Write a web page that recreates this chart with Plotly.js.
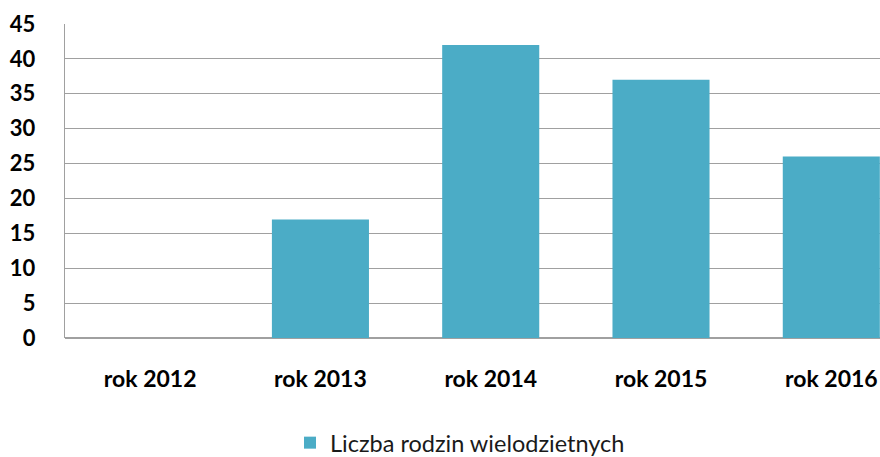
<!DOCTYPE html>
<html>
<head>
<meta charset="utf-8">
<script src="https://cdn.plot.ly/plotly-3.0.1.min.js"></script>
<style>html,body{margin:0;padding:0;overflow:hidden;background:#fff}</style>
</head>
<body>
<div id="chart" style="width:880px;height:457px"></div>
<script>
var categories = ["rok 2012", "rok 2013", "rok 2014", "rok 2015", "rok 2016"];
var values = [0, 17, 42, 37, 26];
var seriesName = "Liczba rodzin wielodzietnych";
var yTicks = [0, 5, 10, 15, 20, 25, 30, 35, 40, 45];

var trace = {
  type: "bar",
  x: categories,
  y: values,
  name: seriesName,
  marker: {color: "#4BACC6", line: {width: 0}},
  showlegend: true
};

var layout = {
  width: 880,
  height: 457,
  margin: {l: 65, r: 0, t: 24, b: 119, autoexpand: false},
  paper_bgcolor: "#fff",
  plot_bgcolor: "#fff",
  bargap: 0.43,
  font: {family: "Lato, 'Open Sans', sans-serif", color: "#000"},
  xaxis: {
    type: "category",
    range: [-0.5, 4.286],
    showgrid: false,
    showline: false,
    zeroline: false,
    ticks: "",
    ticklabelstandoff: 25,
    tickfont: {family: "Lato, sans-serif", size: 23, color: "#000", weight: "bold"}
  },
  yaxis: {
    range: [0, 45],
    tickvals: yTicks,
    ticktext: yTicks.map(String),
    showgrid: true,
    gridcolor: "#a0a0a0",
    gridwidth: 1.2,
    showline: true,
    linecolor: "#a0a0a0",
    linewidth: 1.2,
    zeroline: true,
    zerolinecolor: "#a0a0a0",
    zerolinewidth: 1.2,
    ticks: "",
    ticklabelstandoff: 24,
    tickfont: {family: "Lato, sans-serif", size: 22, color: "#000", weight: "bold"}
  },
  showlegend: true,
  legend: {
    orientation: "h",
    x: (290 - 65) / 815,
    xanchor: "left",
    y: -0.334,
    yanchor: "middle",
    font: {family: "Lato, sans-serif", size: 23.5, color: "#1a1a1a"},
    itemwidth: 30
  }
};

Plotly.newPlot("chart", [trace], layout, {displayModeBar: false, staticPlot: true});
</script>
</body>
</html>
